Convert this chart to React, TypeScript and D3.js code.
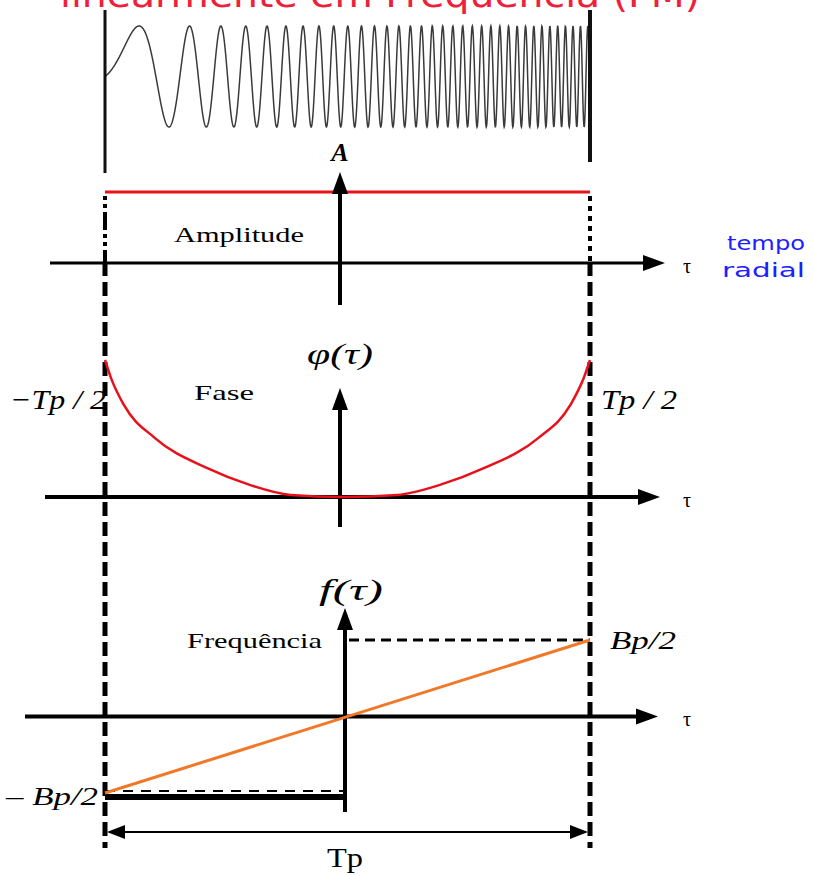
import React from "react";
import * as d3 from "d3";

// Pulse time axis, normalised so that -1 = -Tp/2 and 1 = Tp/2
const tauEnds = [-1, 1];

// Constant amplitude over the pulse
const ampValues = [1, 1];

// Quadratic phase, sampled (relative units, 0 at the centre of the pulse)
const phaseTau = [-1, -0.975, -0.92, -0.79, -0.57, -0.395, -0.22, 0, 0.22, 0.395, 0.57, 0.79, 0.92, 0.975, 1];
const phaseValues = [1, 0.87, 0.67, 0.43, 0.21, 0.09, 0.015, 0, 0.015, 0.09, 0.21, 0.43, 0.67, 0.87, 1];

// Linear frequency sweep, in units of Bp/2
const freqValues = [-1, 1];

// Chirp waveform: instantaneous frequency at the start and end of the pulse (cycles per pulse)
const chirpStartCycles = 1.1;
const chirpEndCycles = 68;
const chirpSamples = 1600;

// Labels
const titleText = "linearmente em Frequência (FM)";
const tauEndLabels = ["\u2212Tp / 2", "Tp / 2"];
const freqEndLabels = ["\u2013 Bp/2", "Bp/2"];
const panelNames = ["Amplitude", "Fase", "Frequência"];
const axisLabels = ["A", "\u03c6(\u03c4)", "f(\u03c4)"];
const radialLabel = ["tempo", "radial"];

const W = 813;
const H = 876;
const serif = "'Liberation Serif', 'DejaVu Serif', serif";
const sans = "'DejaVu Sans', 'Noto Sans', sans-serif";

export default function App() {
  const x = d3.scaleLinear().domain([-1, 0, 1]).range([105, 343, 590]);
  const x0 = x(0);

  const yWave = d3.scaleLinear().domain([-1, 1]).range([127, 26]);
  const yAmp = d3.scaleLinear().domain([0, 1]).range([263, 192]);
  const yPhase = d3.scaleLinear().domain([0, 1]).range([497, 360]);
  const yFreq = d3.scaleLinear().domain([-1, 1]).range([793, 640]);
  const yFreqAxis = yFreq(0);

  // chirp samples
  const wave: [number, number][] = d3.range(chirpSamples + 1).map((i) => {
    const u = i / chirpSamples;
    const th = 2 * Math.PI * (chirpStartCycles * u + ((chirpEndCycles - chirpStartCycles) * u * u) / 2);
    return [-1 + 2 * u, Math.sin(th)];
  });
  const waveLine = d3
    .line<[number, number]>()
    .x((d) => x(d[0]))
    .y((d) => yWave(d[1]));

  const phaseLine = d3
    .line<number>()
    .x((_, i) => x(phaseTau[i]))
    .y((d) => yPhase(d))
    .curve(d3.curveMonotoneX);

  const freqLine = d3
    .line<number>()
    .x((_, i) => x(tauEnds[i]))
    .y((d) => yFreq(d));

  const ampLine = d3
    .line<number>()
    .x((_, i) => x(tauEnds[i]))
    .y((d) => yAmp(d));

  const xL = x(-1);
  const xR = x(1);

  const hArrow = (y: number, x1: number, tip: number, sw: number) => (
    <g>
      <line x1={x1} x2={tip - 14} y1={y} y2={y} stroke="#000" strokeWidth={sw} />
      <path d={`M${tip},${y} L${tip - 22},${y - 8} L${tip - 22},${y + 8} Z`} fill="#000" />
    </g>
  );
  const vArrow = (xx: number, y1: number, tip: number, sw: number) => (
    <g>
      <line x1={xx} x2={xx} y1={y1} y2={tip + 14} stroke="#000" strokeWidth={sw} />
      <path d={`M${xx},${tip} L${xx - 8},${tip + 22} L${xx + 8},${tip + 22} Z`} fill="#000" />
    </g>
  );

  return (
    <svg
      width={W}
      height={H}
      viewBox={`0 0 ${W} ${H}`}
      style={{ position: "absolute", left: 0, top: 0, background: "#fff" }}
    >
      {/* title (runs off the top edge) */}
      <text
        x={60}
        y={7}
        fontFamily={sans}
        fontSize={36}
        fill="#f0203a"
        textLength={640}
        lengthAdjust="spacingAndGlyphs"
      >
        {titleText}
      </text>

      {/* chirp waveform */}
      <path d={waveLine(wave) || ""} fill="none" stroke="#3a3a3a" strokeWidth={1.5} />
      <line x1={xL} x2={xL} y1={10} y2={173} stroke="#111" strokeWidth={3} />
      <line x1={xR} x2={xR} y1={10} y2={162} stroke="#111" strokeWidth={4} />

      {/* pulse edges */}
      <line x1={xL} x2={xL} y1={196} y2={262} stroke="#000" strokeWidth={4} strokeDasharray="4,4,4,4,18,4" />
      <line x1={xR} x2={xR} y1={196} y2={262} stroke="#000" strokeWidth={4} strokeDasharray="5,5" />
      {[xL, xR].map((xx, i) => (
        <line key={i} x1={xx} x2={xx} y1={262} y2={848} stroke="#000" strokeWidth={5} strokeDasharray="14,6" />
      ))}

      {/* amplitude panel */}
      <path d={ampLine(ampValues) || ""} fill="none" stroke="#e8101a" strokeWidth={3} />
      {hArrow(yAmp(0), 50, 665, 3)}
      {vArrow(x0 - 3, 305, 172, 4)}
      <text x={x0 - 3} y={161} textAnchor="middle" fontFamily={serif} fontStyle="italic" fontWeight="bold" fontSize={26}>
        {axisLabels[0]}
      </text>
      <text x={174} y={242} fontFamily={serif} fontSize={22} textLength={130} lengthAdjust="spacingAndGlyphs">
        {panelNames[0]}
      </text>
      <text x={683} y={273} fontFamily={serif} fontSize={20}>
        τ
      </text>
      <text x={727} y={250} fontFamily={sans} fontSize={20} fill="#2020ff" textLength={78} lengthAdjust="spacingAndGlyphs">
        {radialLabel[0]}
      </text>
      <text x={722} y={277} fontFamily={sans} fontSize={20} fill="#2020ff" textLength={83} lengthAdjust="spacingAndGlyphs">
        {radialLabel[1]}
      </text>

      {/* phase panel */}
      {hArrow(yPhase(0), 45, 660, 4)}
      {vArrow(x0 - 3, 527, 388, 4)}
      <path d={phaseLine(phaseValues) || ""} fill="none" stroke="#e8101a" strokeWidth={2.5} />
      <text x={307} y={364} fontFamily={serif} fontStyle="italic" fontSize={30} textLength={66} lengthAdjust="spacingAndGlyphs">
        {axisLabels[1]}
      </text>
      <text x={194} y={400} fontFamily={serif} fontSize={22} textLength={60} lengthAdjust="spacingAndGlyphs">
        {panelNames[1]}
      </text>
      <text x={10} y={409} fontFamily={serif} fontStyle="italic" fontSize={28} textLength={96} lengthAdjust="spacingAndGlyphs">
        {tauEndLabels[0]}
      </text>
      <text x={601} y={409} fontFamily={serif} fontStyle="italic" fontSize={28} textLength={76} lengthAdjust="spacingAndGlyphs">
        {tauEndLabels[1]}
      </text>
      <text x={683} y={507} fontFamily={serif} fontSize={20}>
        τ
      </text>

      {/* frequency panel */}
      <line x1={x0 + 6} x2={xR} y1={yFreq(1)} y2={yFreq(1)} stroke="#000" strokeWidth={3} strokeDasharray="10,6" />
      {hArrow(yFreqAxis, 25, 658, 4)}
      {vArrow(x0 + 2, 812, 608, 4)}
      <line x1={xL} x2={x0 + 2} y1={yFreq(-1) + 4} y2={yFreq(-1) + 4} stroke="#000" strokeWidth={6} />
      <line x1={xL} x2={x0} y1={yFreq(-1) - 2} y2={yFreq(-1) - 2} stroke="#000" strokeWidth={2} strokeDasharray="10,8" />
      <path d={freqLine(freqValues) || ""} fill="none" stroke="#f07828" strokeWidth={3} />
      <text x={319} y={600} fontFamily={serif} fontStyle="italic" fontSize={29} textLength={64} lengthAdjust="spacingAndGlyphs">
        {axisLabels[2]}
      </text>
      <text x={187} y={648} fontFamily={serif} fontSize={22} textLength={135} lengthAdjust="spacingAndGlyphs">
        {panelNames[2]}
      </text>
      <text x={610} y={649} fontFamily={serif} fontStyle="italic" fontSize={26} textLength={66} lengthAdjust="spacingAndGlyphs">
        {freqEndLabels[1]}
      </text>
      <text x={6} y={805} fontFamily={serif} fontStyle="italic" fontSize={26} textLength={92} lengthAdjust="spacingAndGlyphs">
        {freqEndLabels[0]}
      </text>
      <text x={683} y={726} fontFamily={serif} fontSize={20}>
        τ
      </text>

      {/* pulse width dimension */}
      <line x1={xL + 4} x2={xR - 4} y1={832} y2={832} stroke="#000" strokeWidth={2} />
      <path d={`M${xL + 2},832 L${xL + 20},825 L${xL + 20},839 Z`} fill="#000" />
      <path d={`M${xR - 2},832 L${xR - 20},825 L${xR - 20},839 Z`} fill="#000" />
      <text x={x0 + 2} y={867} textAnchor="middle" fontFamily={serif} fontSize={27} textLength={36} lengthAdjust="spacingAndGlyphs">
        Tp
      </text>
    </svg>
  );
}
